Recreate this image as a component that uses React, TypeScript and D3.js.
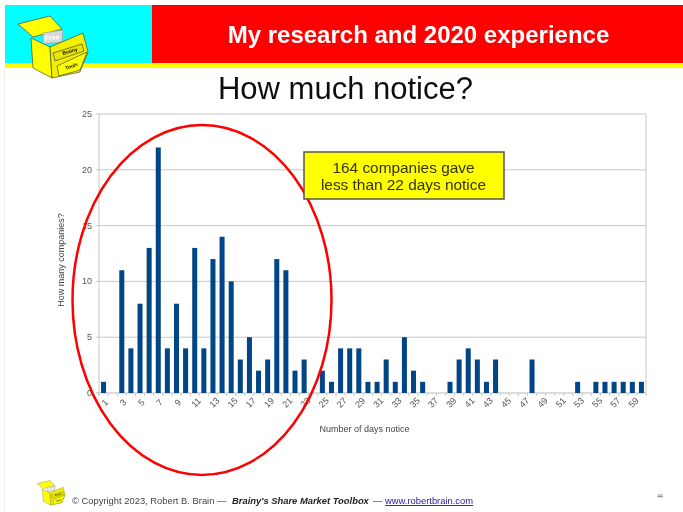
import React from "react";
import * as d3 from "d3";

const categories = Array.from({ length: 60 }, (_, i) => String(i + 1));
const companies = [
  1, 0, 11, 4, 8, 13, 22, 4, 8, 4, 13, 4, 12, 14, 10, 3, 5, 2, 3, 12, 11, 2, 3, 0, 2, 1, 4, 4, 4, 1,
  1, 3, 1, 5, 2, 1, 0, 0, 1, 3, 4, 3, 1, 3, 0, 0, 0, 3, 0, 0, 0, 0, 1, 0, 1, 1, 1, 1, 1, 1,
];
const yTicks = [0, 5, 10, 15, 20, 25];
const calloutLines = ["164 companies gave", "less than 22 days notice"];

const FONT = "'Liberation Sans', Arial, sans-serif";

const Logo = ({ x, y, s }: { x: number; y: number; s: number }) => (
  <g transform={`translate(${x},${y}) scale(${s})`} stroke="#333" strokeWidth={0.6} strokeLinejoin="round">
    <polygon points="18,24 50,16 62,29 33,37" fill="#ffff00" />
    <polygon points="43,33 63,30 62,42 43,44" fill="#d8d8d8" stroke="#999" />
    <polygon points="31,38 50,47 52,78 33,68" fill="#ffff00" />
    <polygon points="50,47 83,33 88,52 80,72 52,78" fill="#f2f000" />
    <polygon points="53,53 82,44 84,51 55,61" fill="#e8e600" />
    <polygon points="57,66 87,52 80,70 59,76" fill="#ffff00" />
    <text x={63} y={55} fontFamily={FONT} fontSize={5} fontWeight="bold" fill="#111" stroke="none" transform="rotate(-16 63 55)">Brainy</text>
    <text x={66} y={70} fontFamily={FONT} fontSize={5} fontWeight="bold" fill="#111" stroke="none" transform="rotate(-20 66 70)">Tools</text>
    <text x={45} y={41} fontFamily={FONT} fontSize={7} fontWeight="bold" fontStyle="italic" fill="#fff" stroke="none" transform="rotate(-8 45 41)">Free</text>
  </g>
);

export default function App() {
  const x = d3.scaleBand<string>().domain(categories).range([99, 646]).paddingInner(0.45).paddingOuter(0.225);
  const y = d3.scaleLinear().domain([0, 25]).range([393, 114]);
  const ell = { cx: 202, cy: 300, rx: 129.5, ry: 175 };

  return (
    <svg width={683} height={512} style={{ position: "absolute", left: 0, top: 0, background: "#fff" }} fontFamily={FONT}>
      <defs>
        <filter id="soft" x="0" y="0" width="100%" height="100%">
          <feGaussianBlur stdDeviation="0.55" />
        </filter>
      </defs>
      <g filter="url(#soft)">
        <rect x={0} y={0} width={683} height={512} fill="#fff" />
        <rect x={5} y={5} width={147} height={58} fill="#00ffff" />
        <rect x={152} y={5} width={531} height={58} fill="#ff0000" />
        <rect x={5} y={63} width={678} height={5} fill="#ffff00" />
        <line x1={4.5} y1={68} x2={4.5} y2={512} stroke="#f0f0f0" />
        <Logo x={0} y={0} s={1} />
        <text x={418.5} y={43} textAnchor="middle" fontSize={24} fontWeight="bold" fill="#fff">My research and 2020 experience</text>
        <text x={345.5} y={99} textAnchor="middle" fontSize={31} fill="#111">How much notice?</text>

        {yTicks.map((t) => (
          <g key={t}>
            <line x1={96} x2={646} y1={y(t)} y2={y(t)} stroke={t === 0 ? "#bbb" : "#c8c8c8"} />
            <text x={92} y={y(t) + 3} textAnchor="end" fontSize={9} fill="#555">{t}</text>
          </g>
        ))}
        <line x1={99} x2={99} y1={114} y2={396} stroke="#c8c8c8" />
        <line x1={646} x2={646} y1={114} y2={396} stroke="#c8c8c8" />
        {categories.map((c, i) => {
          const cx = x(c)! + x.bandwidth() / 2;
          return (
            <g key={c}>
              <line x1={cx - x.step() / 2} x2={cx - x.step() / 2} y1={393} y2={396} stroke="#c8c8c8" />
              {companies[i] > 0 && (
                <rect x={x(c)} y={y(companies[i])} width={x.bandwidth()} height={y(0) - y(companies[i])} fill="#004586" />
              )}
              {i % 2 === 0 && (
                <text x={cx + 2} y={407} textAnchor="middle" fontSize={9} fill="#555" transform={`rotate(-45 ${cx} 404)`}>{c}</text>
              )}
            </g>
          );
        })}
        <text transform="translate(64,260) rotate(-90)" textAnchor="middle" fontSize={9} fill="#444">How many companies?</text>
        <text x={364.5} y={432} textAnchor="middle" fontSize={9} fill="#444">Number of days notice</text>

        <ellipse cx={ell.cx} cy={ell.cy} rx={ell.rx} ry={ell.ry} fill="none" stroke="#ff0000" strokeWidth={2.5} />

        <rect x={304} y={152} width={200} height={47} fill="#ffff00" stroke="#555" strokeWidth={1.5} />
        {calloutLines.map((l, i) => (
          <text key={l} x={403.5} y={172.5 + i * 17} textAnchor="middle" fontSize={15.4} fill="#333300">{l}</text>
        ))}

        <Logo x={30} y={474} s={0.4} />
        <text x={72} y={504} fontSize={9.4} fill="#444">© Copyright 2023, Robert B. Brain —</text>
        <text x={232} y={504} fontSize={9.4} fontWeight="bold" fontStyle="italic" fill="#222">Brainy's Share Market Toolbox</text>
        <text x={373} y={504} fontSize={9.4} fill="#444">—</text>
        <text x={385} y={504} fontSize={9.4} fill="#2222aa" textDecoration="underline">www.robertbrain.com</text>
        <text x={660} y={498} textAnchor="middle" fontSize={5} fill="#555">44</text>
      </g>
    </svg>
  );
}
